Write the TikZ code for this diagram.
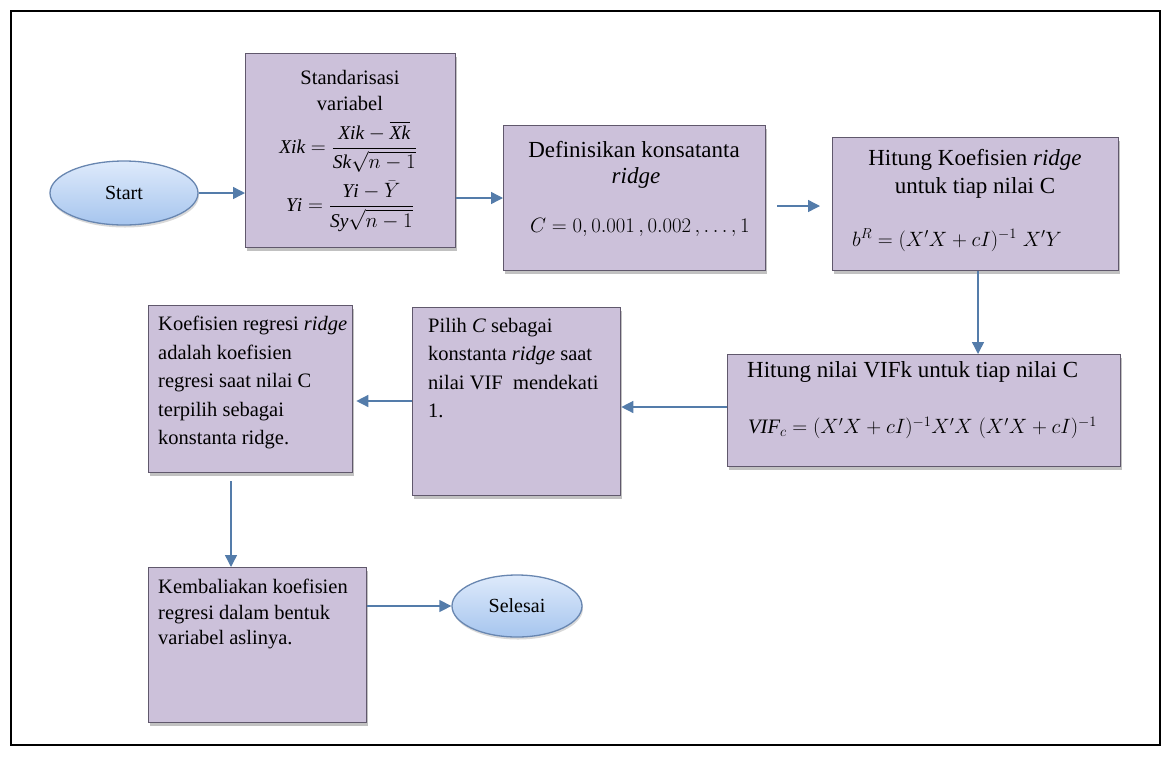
\documentclass[tikz,border=0pt]{standalone}
\usepackage{fontspec}
\setmainfont{Liberation Serif}
\usepackage{amsmath}
\usetikzlibrary{arrows.meta,shapes.geometric,shadows}
\definecolor{boxfill}{RGB}{204,193,218}
\definecolor{boxline}{RGB}{96,88,108}
\definecolor{arrowc}{RGB}{84,124,170}
\definecolor{ovtop}{RGB}{222,234,251}
\definecolor{ovbot}{RGB}{166,197,238}
\definecolor{ovline}{RGB}{104,134,176}
\newcommand\mv[1]{\mathit{#1}}
\tikzset{
  stepbox/.style={draw=boxline, line width=1.3pt, fill=boxfill, anchor=north west,
    inner sep=0pt, drop shadow={shadow xshift=1.5pt, shadow yshift=-3pt, opacity=0.35, fill=black!70}},
  terminal/.style={ellipse, draw=ovline, line width=1.3pt, top color=ovtop, bottom color=ovbot,
    inner sep=0pt, minimum width=148pt, minimum height=64pt,
    drop shadow={shadow xshift=1pt, shadow yshift=-2.5pt, opacity=0.25, fill=black!60}},
  txt/.style={inner sep=0pt, font=\fontsize{20.5}{28.5}\selectfont},
  bigtxt/.style={inner sep=0pt, font=\fontsize{23}{28}\selectfont},
  mathtxt/.style={inner sep=0pt, font=\fontsize{19.5}{24}\selectfont},
  flow/.style={draw=arrowc, line width=1.4pt, -{Triangle[length=12pt,width=12pt]}},
}
\begin{document}
\begin{tikzpicture}[x=1pt,y=-1pt]
\useasboundingbox (0,0) rectangle (1174,756);
% outer frame
\draw[line width=2pt, black] (11,11) rectangle (1160,745);

% terminals
\node[terminal] (start) at (124,193) {\fontsize{20}{24}\selectfont Start};
\node[terminal, minimum width=130pt, minimum height=62pt] (end) at (517,606) {\fontsize{20}{24}\selectfont Selesai};

% process boxes
\node[stepbox, minimum width=210pt, minimum height=194pt] (b1) at (245,53) {};
\node[stepbox, minimum width=262pt, minimum height=145pt] (b2) at (503,125) {};
\node[stepbox, minimum width=286pt, minimum height=133pt] (b3) at (832,137) {};
\node[stepbox, minimum width=393pt, minimum height=112pt] (b4) at (727,354) {};
\node[stepbox, minimum width=208pt, minimum height=188pt] (b5) at (412,307) {};
\node[stepbox, minimum width=204pt, minimum height=167pt] (b6) at (148,305) {};
\node[stepbox, minimum width=218pt, minimum height=155pt] (b7) at (148,567) {};

% box texts
\node[txt] (t1a) at (350,77) {Standarisasi};
\node[txt] (t1b) at (350,103) {variabel};
\node[mathtxt] (f1a) at (348,147) {$\mv{Xik}=\dfrac{\mv{Xik}-\overline{\mv{Xk}}}{\mv{Sk}\sqrt{n-1}}$};
\node[mathtxt] (f1b) at (350,206) {$\mv{Yi}=\dfrac{\mv{Yi}-\bar{Y}}{\mv{Sy}\sqrt{n-1}}$};

\node[bigtxt] (t2a) at (634,150) {Definisikan konsatanta};
\node[bigtxt] (t2b) at (636,178) {\textit{ridge}};
\node[txt, anchor=west] (f2) at (530,227) {$C = 0, 0.001\,, 0.002\,, \dots, 1$};

\node[bigtxt] (t3a) at (975,160) {Hitung Koefisien \textit{ridge}};
\node[bigtxt] (t3b) at (975,188) {untuk tiap nilai C};
\node[txt, anchor=west] (f3) at (852,240) {$b^R = (X'X + cI)^{-1}\;X'Y$};

\node[bigtxt, anchor=west] (t4) at (747,372) {Hitung nilai VIFk untuk tiap nilai C};
\node[txt, anchor=west] (f4) at (748,428) {$\mv{VIF}_c = (X'X + cI)^{-1}X'X\;(X'X + cI)^{-1}$};

\node[txt, anchor=north west, align=left] (t5) at (428,318) {Pilih \textit{C} sebagai\\konstanta \textit{ridge} saat\\nilai VIF\ \ mendekati\\1.};

\node[txt, anchor=north west, align=left] (t6) at (158,316) {Koefisien regresi \textit{ridge}\\adalah koefisien\\regresi saat nilai C\\terpilih sebagai\\konstanta ridge.};

\node[txt, anchor=north west, align=left, font=\fontsize{20.5}{25.5}\selectfont] (t7) at (158,579) {Kembaliakan koefisien\\regresi dalam bentuk\\variabel aslinya.};

% connectors
\coordinate (a1) at (777,206);
\coordinate (a2) at (820,206);
\coordinate (a3) at (231,481);
\draw[flow] (start.east) -- (b1.west |- start.east);
\draw[flow] (b1.east |- 0,198) -- (b2.west |- 0,198);
\draw[flow] (a1) -- (a2);
\draw[flow] (b3.south -| 978,0) -- (b4.north -| 978,0);
\draw[flow] (b4.west |- 0,407) -- (b5.east |- 0,407);
\draw[flow] (b5.west |- 0,401) -- ([xshift=3pt]b6.east |- 0,401);
\draw[flow] (a3) -- (b7.north -| a3);
\draw[flow] (b7.east |- end.west) -- (end.west);
\end{tikzpicture}
\end{document}
